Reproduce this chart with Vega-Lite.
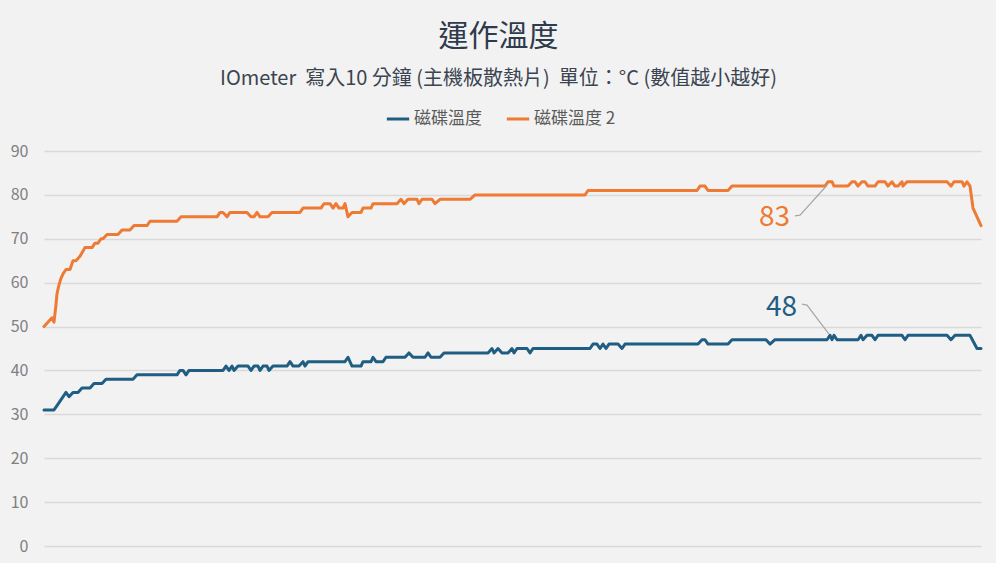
{
  "$schema": "https://vega.github.io/schema/vega-lite/v6.json",
  "width": 937,
  "height": 395,
  "autosize": {"type": "none"},
  "padding": {"left": 44, "top": 151, "right": 15, "bottom": 17},
  "background": "#f2f2f2",
  "title": {
    "text": "運作溫度",
    "subtitle": "IOmeter\u00a0\u00a0寫入10 分鐘 (主機板散熱片)\u00a0\u00a0單位：°C (數值越小越好)",
    "anchor": "middle",
    "dx": -14,
    "font": "Noto Sans CJK TC",
    "fontSize": 30,
    "fontWeight": "normal",
    "color": "#2f3b4c",
    "subtitleFont": "Noto Sans CJK TC",
    "subtitleFontSize": 20,
    "subtitleColor": "#3b4451",
    "subtitlePadding": 17,
    "offset": 17
  },
  "config": {
    "view": {"stroke": null},
    "font": "Noto Sans CJK TC"
  },
  "layer": [
    {
      "data": {
        "values": [
          {"s":"磁碟溫度 2","t":0,"v":50},{"s":"磁碟溫度 2","t":8,"v":52},{"s":"磁碟溫度 2","t":10,"v":51},{"s":"磁碟溫度 2","t":12,"v":55},{"s":"磁碟溫度 2","t":13,"v":57.5},{"s":"磁碟溫度 2","t":15,"v":59.5},{"s":"磁碟溫度 2","t":17,"v":61},{"s":"磁碟溫度 2","t":19,"v":62},{"s":"磁碟溫度 2","t":22,"v":63},{"s":"磁碟溫度 2","t":26,"v":63},{"s":"磁碟溫度 2","t":29,"v":65},{"s":"磁碟溫度 2","t":32,"v":65},{"s":"磁碟溫度 2","t":36,"v":66},{"s":"磁碟溫度 2","t":41,"v":68},{"s":"磁碟溫度 2","t":48,"v":68},{"s":"磁碟溫度 2","t":51,"v":69},{"s":"磁碟溫度 2","t":54,"v":69},{"s":"磁碟溫度 2","t":57,"v":70},{"s":"磁碟溫度 2","t":59,"v":70},{"s":"磁碟溫度 2","t":63,"v":71},{"s":"磁碟溫度 2","t":74,"v":71},{"s":"磁碟溫度 2","t":78,"v":72},{"s":"磁碟溫度 2","t":86,"v":72},{"s":"磁碟溫度 2","t":90,"v":73},{"s":"磁碟溫度 2","t":103,"v":73},{"s":"磁碟溫度 2","t":106,"v":74},{"s":"磁碟溫度 2","t":133,"v":74},{"s":"磁碟溫度 2","t":137,"v":75},{"s":"磁碟溫度 2","t":173,"v":75},{"s":"磁碟溫度 2","t":176,"v":76},{"s":"磁碟溫度 2","t":179,"v":76},{"s":"磁碟溫度 2","t":183,"v":75},{"s":"磁碟溫度 2","t":186,"v":76},{"s":"磁碟溫度 2","t":203,"v":76},{"s":"磁碟溫度 2","t":207,"v":75},{"s":"磁碟溫度 2","t":210,"v":75},{"s":"磁碟溫度 2","t":213,"v":76},{"s":"磁碟溫度 2","t":216,"v":75},{"s":"磁碟溫度 2","t":224,"v":75},{"s":"磁碟溫度 2","t":228,"v":76},{"s":"磁碟溫度 2","t":256,"v":76},{"s":"磁碟溫度 2","t":259,"v":77},{"s":"磁碟溫度 2","t":277,"v":77},{"s":"磁碟溫度 2","t":280,"v":78},{"s":"磁碟溫度 2","t":286,"v":78},{"s":"磁碟溫度 2","t":289,"v":77},{"s":"磁碟溫度 2","t":292,"v":78},{"s":"磁碟溫度 2","t":295,"v":77},{"s":"磁碟溫度 2","t":299,"v":77},{"s":"磁碟溫度 2","t":301,"v":78},{"s":"磁碟溫度 2","t":304,"v":75},{"s":"磁碟溫度 2","t":308,"v":76},{"s":"磁碟溫度 2","t":317,"v":76},{"s":"磁碟溫度 2","t":319,"v":77},{"s":"磁碟溫度 2","t":327,"v":77},{"s":"磁碟溫度 2","t":329,"v":78},{"s":"磁碟溫度 2","t":353,"v":78},{"s":"磁碟溫度 2","t":357,"v":79},{"s":"磁碟溫度 2","t":360,"v":78},{"s":"磁碟溫度 2","t":364,"v":79},{"s":"磁碟溫度 2","t":373,"v":79},{"s":"磁碟溫度 2","t":375,"v":78},{"s":"磁碟溫度 2","t":378,"v":79},{"s":"磁碟溫度 2","t":388,"v":79},{"s":"磁碟溫度 2","t":391,"v":78},{"s":"磁碟溫度 2","t":396,"v":79},{"s":"磁碟溫度 2","t":426,"v":79},{"s":"磁碟溫度 2","t":431,"v":80},{"s":"磁碟溫度 2","t":541,"v":80},{"s":"磁碟溫度 2","t":544,"v":81},{"s":"磁碟溫度 2","t":653,"v":81},{"s":"磁碟溫度 2","t":656,"v":82},{"s":"磁碟溫度 2","t":661,"v":82},{"s":"磁碟溫度 2","t":664,"v":81},{"s":"磁碟溫度 2","t":684,"v":81},{"s":"磁碟溫度 2","t":688,"v":82},{"s":"磁碟溫度 2","t":781,"v":82},{"s":"磁碟溫度 2","t":784,"v":83},{"s":"磁碟溫度 2","t":788,"v":83},{"s":"磁碟溫度 2","t":790,"v":82},{"s":"磁碟溫度 2","t":804,"v":82},{"s":"磁碟溫度 2","t":808,"v":83},{"s":"磁碟溫度 2","t":811,"v":83},{"s":"磁碟溫度 2","t":814,"v":82},{"s":"磁碟溫度 2","t":818,"v":83},{"s":"磁碟溫度 2","t":821,"v":83},{"s":"磁碟溫度 2","t":824,"v":82},{"s":"磁碟溫度 2","t":831,"v":82},{"s":"磁碟溫度 2","t":834,"v":83},{"s":"磁碟溫度 2","t":841,"v":83},{"s":"磁碟溫度 2","t":844,"v":82},{"s":"磁碟溫度 2","t":848,"v":83},{"s":"磁碟溫度 2","t":851,"v":82},{"s":"磁碟溫度 2","t":854,"v":82},{"s":"磁碟溫度 2","t":858,"v":83},{"s":"磁碟溫度 2","t":859,"v":82},{"s":"磁碟溫度 2","t":863,"v":83},{"s":"磁碟溫度 2","t":903,"v":83},{"s":"磁碟溫度 2","t":907,"v":82},{"s":"磁碟溫度 2","t":910,"v":83},{"s":"磁碟溫度 2","t":918,"v":83},{"s":"磁碟溫度 2","t":920,"v":82},{"s":"磁碟溫度 2","t":923,"v":83},{"s":"磁碟溫度 2","t":926,"v":82},{"s":"磁碟溫度 2","t":929,"v":77},{"s":"磁碟溫度 2","t":933,"v":75},{"s":"磁碟溫度 2","t":937,"v":73},
          {"s":"磁碟溫度","t":0,"v":31},{"s":"磁碟溫度","t":10,"v":31},{"s":"磁碟溫度","t":13,"v":32},{"s":"磁碟溫度","t":22,"v":35},{"s":"磁碟溫度","t":25,"v":34},{"s":"磁碟溫度","t":29,"v":35},{"s":"磁碟溫度","t":34,"v":35},{"s":"磁碟溫度","t":38,"v":36},{"s":"磁碟溫度","t":46,"v":36},{"s":"磁碟溫度","t":50,"v":37},{"s":"磁碟溫度","t":58,"v":37},{"s":"磁碟溫度","t":62,"v":38},{"s":"磁碟溫度","t":89,"v":38},{"s":"磁碟溫度","t":93,"v":39},{"s":"磁碟溫度","t":133,"v":39},{"s":"磁碟溫度","t":136,"v":40},{"s":"磁碟溫度","t":139,"v":40},{"s":"磁碟溫度","t":142,"v":39},{"s":"磁碟溫度","t":145,"v":40},{"s":"磁碟溫度","t":179,"v":40},{"s":"磁碟溫度","t":182,"v":41},{"s":"磁碟溫度","t":185,"v":40},{"s":"磁碟溫度","t":188,"v":41},{"s":"磁碟溫度","t":190,"v":40},{"s":"磁碟溫度","t":194,"v":41},{"s":"磁碟溫度","t":204,"v":41},{"s":"磁碟溫度","t":207,"v":40},{"s":"磁碟溫度","t":210,"v":41},{"s":"磁碟溫度","t":214,"v":41},{"s":"磁碟溫度","t":216,"v":40},{"s":"磁碟溫度","t":219,"v":41},{"s":"磁碟溫度","t":223,"v":41},{"s":"磁碟溫度","t":225,"v":40},{"s":"磁碟溫度","t":229,"v":41},{"s":"磁碟溫度","t":243,"v":41},{"s":"磁碟溫度","t":246,"v":42},{"s":"磁碟溫度","t":249,"v":41},{"s":"磁碟溫度","t":255,"v":41},{"s":"磁碟溫度","t":259,"v":42},{"s":"磁碟溫度","t":261,"v":41},{"s":"磁碟溫度","t":264,"v":42},{"s":"磁碟溫度","t":301,"v":42},{"s":"磁碟溫度","t":304,"v":43},{"s":"磁碟溫度","t":308,"v":41},{"s":"磁碟溫度","t":317,"v":41},{"s":"磁碟溫度","t":319,"v":42},{"s":"磁碟溫度","t":327,"v":42},{"s":"磁碟溫度","t":329,"v":43},{"s":"磁碟溫度","t":332,"v":42},{"s":"磁碟溫度","t":339,"v":42},{"s":"磁碟溫度","t":342,"v":43},{"s":"磁碟溫度","t":361,"v":43},{"s":"磁碟溫度","t":365,"v":44},{"s":"磁碟溫度","t":369,"v":43},{"s":"磁碟溫度","t":381,"v":43},{"s":"磁碟溫度","t":384,"v":44},{"s":"磁碟溫度","t":387,"v":43},{"s":"磁碟溫度","t":396,"v":43},{"s":"磁碟溫度","t":400,"v":44},{"s":"磁碟溫度","t":444,"v":44},{"s":"磁碟溫度","t":448,"v":45},{"s":"磁碟溫度","t":450,"v":44},{"s":"磁碟溫度","t":454,"v":45},{"s":"磁碟溫度","t":458,"v":44},{"s":"磁碟溫度","t":464,"v":44},{"s":"磁碟溫度","t":468,"v":45},{"s":"磁碟溫度","t":470,"v":44},{"s":"磁碟溫度","t":473,"v":45},{"s":"磁碟溫度","t":483,"v":45},{"s":"磁碟溫度","t":486,"v":44},{"s":"磁碟溫度","t":489,"v":45},{"s":"磁碟溫度","t":546,"v":45},{"s":"磁碟溫度","t":549,"v":46},{"s":"磁碟溫度","t":553,"v":46},{"s":"磁碟溫度","t":556,"v":45},{"s":"磁碟溫度","t":559,"v":46},{"s":"磁碟溫度","t":562,"v":45},{"s":"磁碟溫度","t":565,"v":46},{"s":"磁碟溫度","t":574,"v":46},{"s":"磁碟溫度","t":578,"v":45},{"s":"磁碟溫度","t":581,"v":46},{"s":"磁碟溫度","t":654,"v":46},{"s":"磁碟溫度","t":658,"v":47},{"s":"磁碟溫度","t":661,"v":47},{"s":"磁碟溫度","t":664,"v":46},{"s":"磁碟溫度","t":684,"v":46},{"s":"磁碟溫度","t":688,"v":47},{"s":"磁碟溫度","t":722,"v":47},{"s":"磁碟溫度","t":726,"v":46},{"s":"磁碟溫度","t":731,"v":47},{"s":"磁碟溫度","t":783,"v":47},{"s":"磁碟溫度","t":786,"v":48},{"s":"磁碟溫度","t":788,"v":47},{"s":"磁碟溫度","t":790,"v":48},{"s":"磁碟溫度","t":793,"v":47},{"s":"磁碟溫度","t":814,"v":47},{"s":"磁碟溫度","t":817,"v":48},{"s":"磁碟溫度","t":819,"v":47},{"s":"磁碟溫度","t":823,"v":48},{"s":"磁碟溫度","t":828,"v":48},{"s":"磁碟溫度","t":831,"v":47},{"s":"磁碟溫度","t":834,"v":48},{"s":"磁碟溫度","t":858,"v":48},{"s":"磁碟溫度","t":861,"v":47},{"s":"磁碟溫度","t":864,"v":48},{"s":"磁碟溫度","t":903,"v":48},{"s":"磁碟溫度","t":907,"v":47},{"s":"磁碟溫度","t":911,"v":48},{"s":"磁碟溫度","t":926,"v":48},{"s":"磁碟溫度","t":933,"v":45},{"s":"磁碟溫度","t":937,"v":45}
        ]
      },
      "mark": {"type": "line", "strokeWidth": 3, "strokeJoin": "round", "strokeCap": "round"},
      "encoding": {
        "x": {"field": "t", "type": "quantitative", "scale": {"domain": [0, 937], "nice": false, "zero": false}, "axis": null},
        "y": {
          "field": "v", "type": "quantitative",
          "scale": {"domain": [0, 90], "nice": false},
          "axis": {
            "title": null, "values": [0,10,20,30,40,50,60,70,80,90],
            "domain": false, "ticks": false, "labelPadding": 16,
            "labelFont": "Noto Sans CJK TC", "labelFontSize": 16, "labelColor": "#808080",
            "gridColor": "#d9d9d9", "gridWidth": 1.5
          }
        },
        "color": {
          "field": "s", "type": "nominal",
          "scale": {"domain": ["磁碟溫度", "磁碟溫度 2"], "range": ["#1f5e82", "#ee7a33"]},
          "legend": {
            "title": null, "orient": "none", "direction": "horizontal",
            "legendX": 341, "legendY": -45,
            "symbolType": "stroke", "symbolStrokeWidth": 3, "symbolSize": 500,
            "labelFont": "Noto Sans CJK TC", "labelFontSize": 17, "labelColor": "#595959",
            "columnPadding": 18, "labelOffset": 3
          }
        },
        "order": {"field": "t", "type": "quantitative"}
      }
    },
    {
      "data": {
        "values": [
          {"id": "a", "t": 751, "v": 75.2},
          {"id": "a", "t": 756, "v": 75.4},
          {"id": "a", "t": 783, "v": 82.2},
          {"id": "b", "t": 758, "v": 55.1},
          {"id": "b", "t": 763, "v": 54.9},
          {"id": "b", "t": 785, "v": 48.3}
        ]
      },
      "mark": {"type": "line", "color": "#a6a6a6", "strokeWidth": 1.2},
      "encoding": {
        "x": {"field": "t", "type": "quantitative"},
        "y": {"field": "v", "type": "quantitative"},
        "detail": {"field": "id"}
      }
    },
    {
      "data": {"values": [{"t": 746, "v": 74.8, "label": "83"}]},
      "mark": {"type": "text", "align": "right", "baseline": "middle", "fontSize": 28, "font": "Noto Sans CJK TC", "color": "#ee7a33"},
      "encoding": {
        "x": {"field": "t", "type": "quantitative"},
        "y": {"field": "v", "type": "quantitative"},
        "text": {"field": "label"}
      }
    },
    {
      "data": {"values": [{"t": 753, "v": 54.2, "label": "48"}]},
      "mark": {"type": "text", "align": "right", "baseline": "middle", "fontSize": 28, "font": "Noto Sans CJK TC", "color": "#1f5e82"},
      "encoding": {
        "x": {"field": "t", "type": "quantitative"},
        "y": {"field": "v", "type": "quantitative"},
        "text": {"field": "label"}
      }
    }
  ]
}
